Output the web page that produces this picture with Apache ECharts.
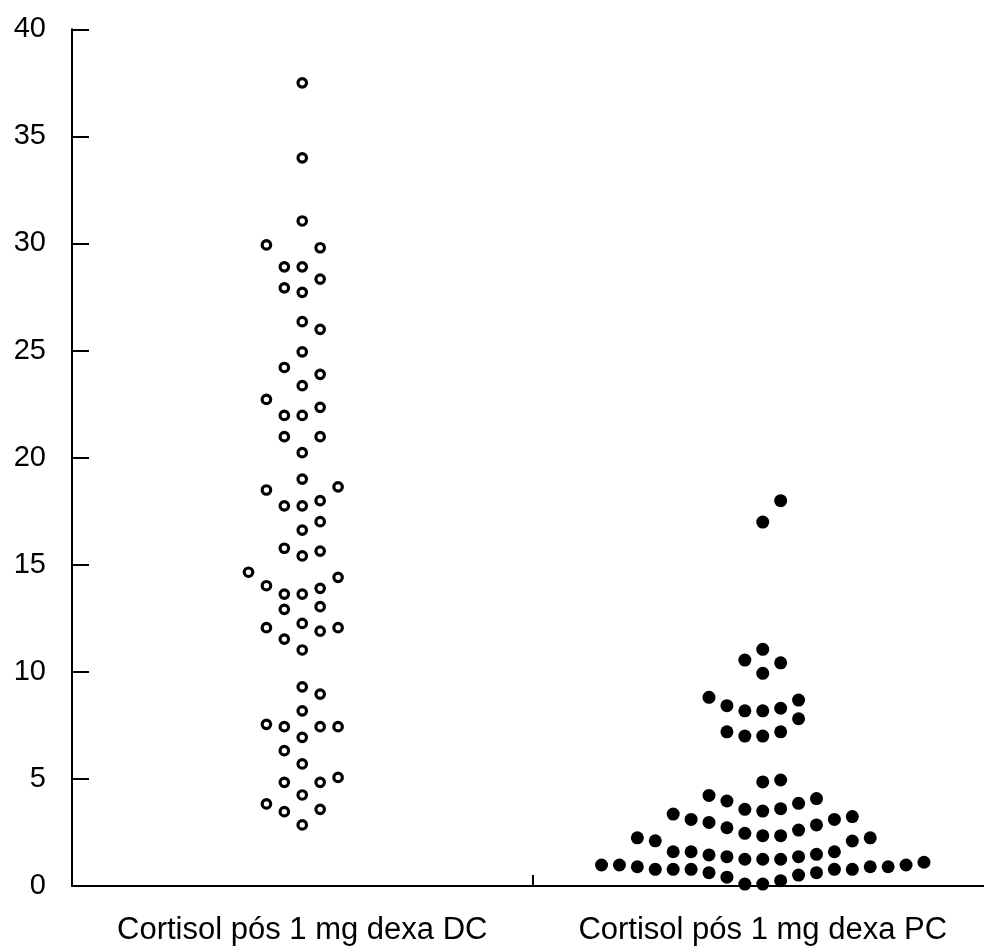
<!DOCTYPE html>
<html>
<head>
<meta charset="utf-8">
<title>Cortisol pós 1 mg dexa</title>
<script src="https://cdn.jsdelivr.net/npm/echarts@6/dist/echarts.min.js"></script>
<style>
  html, body { margin: 0; padding: 0; background: #ffffff; overflow: hidden; }
  #chart { width: 984px; height: 952px; }
</style>
</head>
<body>
<div id="chart"></div>
<script>
// Group labels along the x axis
const categories = ['Cortisol pós 1 mg dexa DC', 'Cortisol pós 1 mg dexa PC'];

// Y axis tick labels
const yTicks = [0, 5, 10, 15, 20, 25, 30, 35, 40];

// DC group: cortisol values and the column (slot) each dot sits in
const dcValues = [37.5, 34.0, 31.05, 29.93, 29.8, 28.91, 28.91, 28.34, 27.93, 27.72,
  26.35, 25.99, 24.94, 24.21, 23.89, 23.36, 22.72, 22.35, 21.97, 21.97,
  20.98, 20.98, 20.23, 19.0, 18.49, 18.64, 17.99, 17.75, 17.75, 17.01,
  16.62, 15.77, 15.64, 15.41, 14.65, 14.41, 14.02, 13.9, 13.63, 13.63,
  13.04, 12.92, 12.26, 12.06, 12.06, 11.9, 11.53, 11.02, 9.3, 8.96,
  8.18, 7.55, 7.44, 7.44, 7.44, 6.94, 6.32, 5.7, 5.07, 4.84,
  4.84, 4.25, 3.83, 3.58, 3.47, 2.85];
const dcSlots = [0, 0, 0, -2, 1, -1, 0, 1, -1, 0,
  0, 1, 0, -1, 1, 0, -2, 1, -1, 0,
  -1, 1, 0, 0, -2, 2, 1, -1, 0, 1,
  0, -1, 1, 0, -3, 2, -2, 1, -1, 0,
  1, -1, 0, -2, 2, 1, -1, 0, 0, 1,
  0, -2, -1, 1, 2, 0, -1, 0, 2, -1,
  1, 0, -2, 1, -1, 0];

// PC group: cortisol values and the column (slot) each dot sits in
const pcValues = [17.99, 16.99, 11.05, 10.55, 10.42, 9.93, 8.81, 8.42, 8.18, 8.18,
  8.3, 8.68, 7.81, 7.2, 7.0, 7.0, 7.2, 4.86, 4.95, 4.23,
  3.97, 3.58, 3.5, 3.61, 3.86, 4.08, 3.36, 3.11, 2.97, 2.72,
  2.46, 2.35, 2.35, 2.61, 2.85, 3.11, 3.24, 2.25, 2.11, 2.1,
  2.25, 1.6, 1.6, 1.45, 1.37, 1.25, 1.25, 1.25, 1.37, 1.48,
  1.6, 0.98, 0.98, 0.9, 0.78, 0.78, 0.78, 0.62, 0.41, 0.09,
  0.09, 0.25, 0.51, 0.62, 0.78, 0.78, 0.9, 0.9, 0.98, 1.11];
const pcSlots = [1, 0, 0, -1, 1, 0, -3, -2, -1, 0,
  1, 2, 2, -2, -1, 0, 1, 0, 1, -3,
  -2, -1, 0, 1, 2, 3, -5, -4, -3, -2,
  -1, 0, 1, 2, 3, 4, 5, -7, -6, 5,
  6, -5, -4, -3, -2, -1, 0, 1, 2, 3,
  4, -9, -8, -7, -6, -5, -4, -3, -2, -1,
  0, 1, 2, 3, 4, 5, 6, 7, 8, 9];

// Horizontal spacing between neighbouring dot columns, in category widths
const SLOT_WIDTH = 0.0389;

function toPoints(center, slots, values) {
  return values.map((v, i) => [center + slots[i] * SLOT_WIDTH, v]);
}

const FONT = "'Liberation Sans', Arial, sans-serif";
const INK = '#000000';

const chart = echarts.init(document.getElementById('chart'), null, { renderer: 'canvas' });

chart.setOption({
  animation: false,
  backgroundColor: '#ffffff',
  // the x axis runs a little past the right edge of the canvas
  grid: { left: 72, top: 29.3, width: 921, height: 856.7, containLabel: false, outerBoundsMode: 'none' },
  xAxis: [
    {
      type: 'category',
      data: categories,
      boundaryGap: true,
      position: 'bottom',
      axisLine: { show: true, onZero: false, lineStyle: { color: INK, width: 2 } },
      axisTick: { show: true, inside: true, interval: 0, length: 11, lineStyle: { color: INK, width: 2 } },
      axisLabel: { color: INK, fontSize: 31, fontFamily: FONT, margin: 29, interval: 0, hideOverlap: false },
      splitLine: { show: false }
    },
    {
      type: 'value',
      min: 0,
      max: 2,
      show: false
    }
  ],
  yAxis: {
    type: 'value',
    min: yTicks[0],
    max: yTicks[yTicks.length - 1],
    interval: 5,
    axisLine: { show: true, lineStyle: { color: INK, width: 2 } },
    axisTick: { show: true, inside: true, length: 17, lineStyle: { color: INK, width: 2 } },
    axisLabel: { color: INK, fontSize: 29, fontFamily: FONT, margin: 26 },
    splitLine: { show: false }
  },
  series: [
    {
      name: categories[0],
      type: 'scatter',
      xAxisIndex: 1,
      clip: false,
      symbol: 'circle',
      symbolSize: 8.5,
      itemStyle: { color: '#ffffff', borderColor: INK, borderWidth: 3.2, opacity: 1 },
      data: toPoints(0.5, dcSlots, dcValues)
    },
    {
      name: categories[1],
      type: 'scatter',
      xAxisIndex: 1,
      clip: false,
      symbol: 'circle',
      symbolSize: 13,
      itemStyle: { color: INK, opacity: 1 },
      data: toPoints(1.5, pcSlots, pcValues)
    }
  ]
});
</script>
</body>
</html>
